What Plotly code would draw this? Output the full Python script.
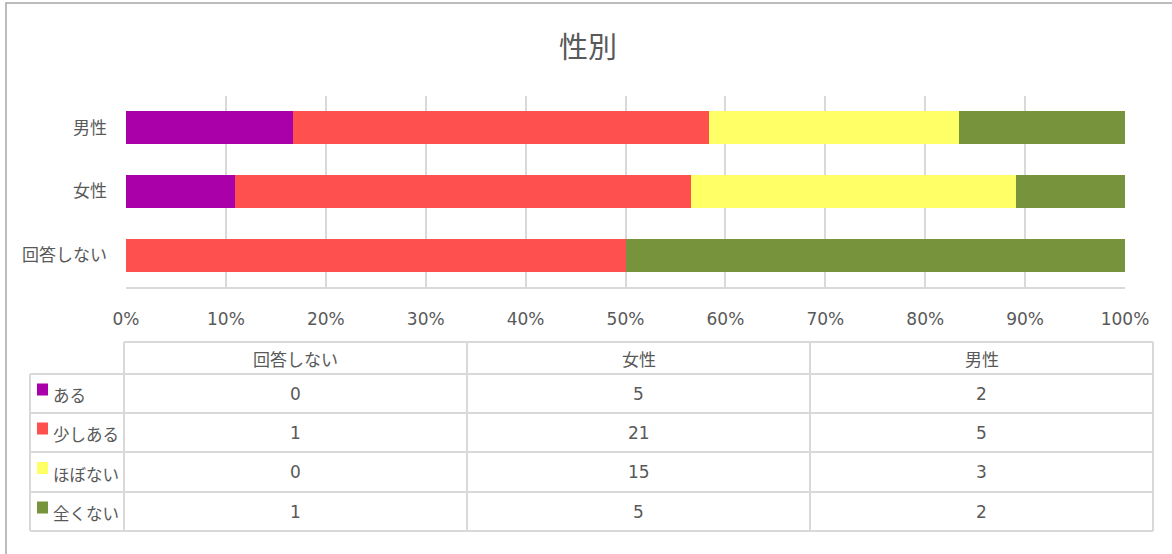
import plotly.graph_objects as go

# Survey counts per respondent group
groups = ["回答しない", "女性", "男性"]
answers = ["ある", "少しある", "ほぼない", "全くない"]
aru = [0, 5, 2]
sukoshi_aru = [1, 21, 5]
hobo_nai = [0, 15, 3]
mattaku_nai = [1, 5, 2]
series = [aru, sukoshi_aru, hobo_nai, mattaku_nai]
colors = ["#AA00AA", "#FF5050", "#FFFF66", "#77933C"]

W, H = 1172, 554
TXT = "#595959"
GRID = "#D9D9D9"
JP = "Noto Sans CJK JP, sans-serif"
NUM = "Verdana, DejaVu Sans, Noto Sans CJK JP, sans-serif"


def px(x):
    return x / W


def py(y):
    return 1 - y / H


fig = go.Figure()
for name, vals, col in zip(answers, series, colors):
    fig.add_trace(go.Bar(
        y=groups, x=vals, name=name, orientation="h",
        marker=dict(color=col, line=dict(width=0)),
        showlegend=False,
    ))

shapes = []
annotations = []

# outer chart frame
shapes.append(dict(type="rect", xref="paper", yref="paper",
                   x0=px(6), x1=px(1190), y0=py(575), y1=py(3),
                   line=dict(color="#A6A6A6", width=1.5), fillcolor="rgba(0,0,0,0)", layer="below"))

# data table grid
col_x = [30, 124, 467, 810, 1153]
row_y = [342, 374, 413, 452, 492, 531]
line_style = dict(color=GRID, width=2)
for i, y in enumerate(row_y):
    x0 = col_x[1] if i == 0 else col_x[0]
    shapes.append(dict(type="line", xref="paper", yref="paper",
                       x0=px(x0), x1=px(col_x[-1]), y0=py(y), y1=py(y), line=line_style))
for j, x in enumerate(col_x):
    y0 = row_y[1] if j == 0 else row_y[0]
    shapes.append(dict(type="line", xref="paper", yref="paper",
                       x0=px(x), x1=px(x), y0=py(y0), y1=py(row_y[-1]), line=line_style))

# column headers
for j, g in enumerate(groups):
    cx = (col_x[j + 1] + col_x[j + 2]) / 2
    cy = (row_y[0] + row_y[1]) / 2
    annotations.append(dict(xref="paper", yref="paper", x=px(cx), y=py(cy),
                            text=g, showarrow=False, xanchor="center", yanchor="middle",
                            font=dict(family=JP, size=17, color=TXT)))

# row labels with colour keys, and the counts
for i, (name, vals, col) in enumerate(zip(answers, series, colors)):
    cy = (row_y[i + 1] + row_y[i + 2]) / 2
    shapes.append(dict(type="rect", xref="paper", yref="paper",
                       x0=px(37), x1=px(48), y0=py(cy + 2), y1=py(cy - 10),
                       fillcolor=col, line=dict(width=0)))
    annotations.append(dict(xref="paper", yref="paper", x=px(51), y=py(cy + 1.5),
                            text=name, showarrow=False, xanchor="left", yanchor="middle",
                            font=dict(family=JP, size=16.5, color=TXT)))
    for j, v in enumerate(vals):
        cx = (col_x[j + 1] + col_x[j + 2]) / 2
        annotations.append(dict(xref="paper", yref="paper", x=px(cx), y=py(cy),
                                text=str(v), showarrow=False, xanchor="center", yanchor="middle",
                                font=dict(family=NUM, size=17, color=TXT)))

# chart title
annotations.append(dict(xref="paper", yref="paper", x=px(588), y=py(45),
                        text="性別", showarrow=False, xanchor="center", yanchor="middle",
                        font=dict(family=JP, size=29, color=TXT)))

fig.update_layout(
    width=W, height=H,
    margin=dict(l=0, r=0, t=0, b=0, autoexpand=False),
    paper_bgcolor="white", plot_bgcolor="white",
    barmode="stack", barnorm="percent", bargap=0.48,
    shapes=shapes, annotations=annotations,
    xaxis=dict(domain=[px(126), px(1125)], range=[0, 100], dtick=10,
               ticksuffix="%", showgrid=True, gridcolor=GRID, gridwidth=2,
               zeroline=False, showline=True, linecolor=GRID, linewidth=2,
               ticks="", ticklabelstandoff=16, automargin=False,
               tickfont=dict(family=NUM, size=17, color=TXT), fixedrange=True),
    yaxis=dict(domain=[py(287), py(96)], showgrid=False, zeroline=False,
               showline=False, ticks="", ticklabelstandoff=18, automargin=False,
               tickfont=dict(family=JP, size=17, color=TXT), fixedrange=True),
)

fig.write_html("out.html")
